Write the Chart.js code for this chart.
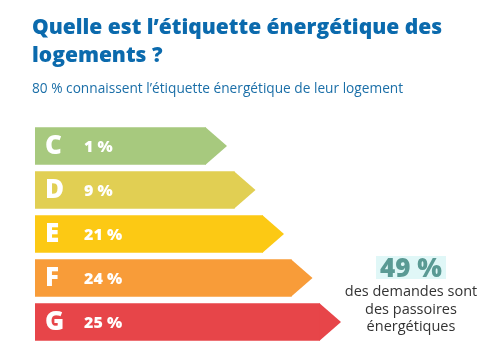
<!DOCTYPE html>
<html lang="fr">
<head>
    <meta charset="UTF-8">
    <title>Quelle est l'étiquette énergétique des logements ?</title>
    <script src="https://cdn.jsdelivr.net/npm/chart.js"></script>
    <style>
        body {
            margin: 0;
            padding: 0;
            background: #fff;
            font-family: "Open Sans", Lato, sans-serif;
        }

        .wrap {
            position: relative;
            width: 500px;
            height: 358px;
        }

        h1 {
            position: absolute;
            left: 32px;
            top: 12px;
            margin: 0;
            font-size: 21px;
            line-height: 28px;
            font-weight: 800;
            color: #0b6aad;
        }

        .sub {
            position: absolute;
            left: 32px;
            top: 78px;
            margin: 0;
            font-size: 13.7px;
            color: #1b6fa8;
        }

        .note {
            position: absolute;
            left: 336px;
            width: 150px;
            top: 256px;
            text-align: center;
            color: #333;
            font-size: 14.5px;
            line-height: 17.5px;
        }

        .note b {
            display: inline-block;
            font-size: 26px;
            line-height: 23px;
            font-weight: 800;
            color: #5a9a94;
            background: #e0f7f7;
            padding: 0 4px;
            margin-bottom: 3px;
        }

        canvas {
            position: absolute;
            left: 0;
            top: 0;
        }
    </style>
</head>
<body>
    <div class="wrap">
        <canvas id="labelChart" width="500" height="358"></canvas>
        <h1>Quelle est l’étiquette énergétique des<br>logements ?</h1>
        <p class="sub">80 % connaissent l’étiquette énergétique de leur logement</p>
        <div class="note"><b>49 %</b><br>des demandes sont<br>des passoires<br>énergétiques</div>
    </div>
    <script>
        // energy classes and share of requests
        const classes = ['C', 'D', 'E', 'F', 'G'];
        const shares = [1, 9, 21, 24, 25];
        const shareLabels = ['1 %', '9 %', '21 %', '24 %', '25 %'];
        // staircase step of each class on the label (not proportional to share)
        const classSteps = [6, 7, 8, 9, 10];
        const classColors = ['#a7c97e', '#e1cf53', '#fcc914', '#f89c39', '#e74549'];

        // arrow tips and texts on each bar
        const labelPlugin = {
            id: 'energyLabel',
            afterDatasetsDraw(chart) {
                const ctx = chart.ctx;
                const meta = chart.getDatasetMeta(0);
                meta.data.forEach((bar, i) => {
                    const half = bar.height / 2;
                    ctx.save();
                    ctx.fillStyle = classColors[i];
                    ctx.beginPath();
                    ctx.moveTo(bar.x - 0.5, bar.y - half);
                    ctx.lineTo(bar.x + 21, bar.y);
                    ctx.lineTo(bar.x - 0.5, bar.y + half);
                    ctx.closePath();
                    ctx.fill();

                    ctx.fillStyle = '#fff';
                    ctx.textBaseline = 'middle';
                    ctx.font = '800 26px "Open Sans", sans-serif';
                    ctx.fillText(classes[i], bar.base + 10, bar.y + 1);
                    ctx.font = '800 16px "Open Sans", sans-serif';
                    ctx.fillText(shareLabels[i], bar.base + 49, bar.y + 1);
                    ctx.restore();
                });
            }
        };

        new Chart(document.getElementById('labelChart'), {
            type: 'bar',
            data: {
                labels: classes,
                datasets: [{
                    label: 'Part des demandes (%)',
                    data: classSteps,
                    shares: shares,
                    backgroundColor: classColors,
                    borderWidth: 0,
                    barPercentage: 0.85,
                    categoryPercentage: 1
                }]
            },
            options: {
                indexAxis: 'y',
                responsive: false,
                animation: false,
                layout: {
                    padding: { left: 35, right: 180, top: 124, bottom: 14 }
                },
                plugins: {
                    legend: { display: false },
                    tooltip: { enabled: false }
                },
                scales: {
                    x: { display: false, min: 0, max: 10 },
                    y: { display: false }
                }
            },
            plugins: [labelPlugin]
        });
    </script>
</body>
</html>
